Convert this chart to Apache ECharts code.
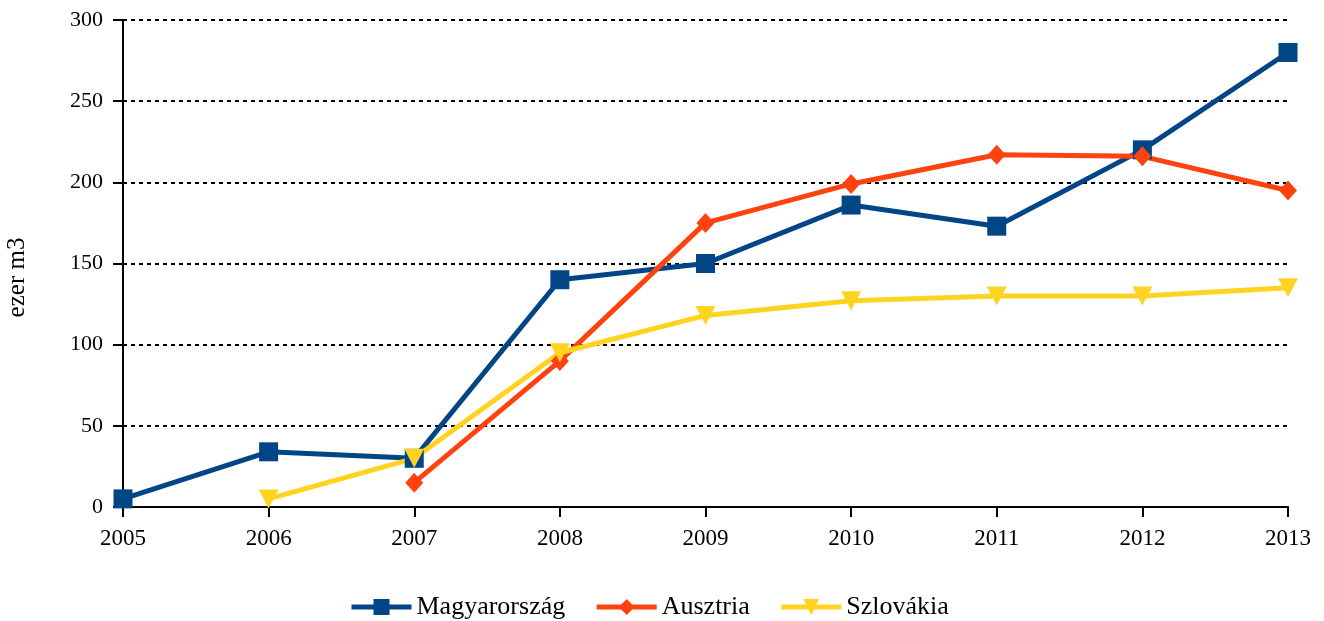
<!DOCTYPE html>
<html>
<head>
<meta charset="utf-8">
<script src="https://cdn.jsdelivr.net/npm/echarts@6/dist/echarts.min.js"></script>
<style>
  html, body { margin: 0; padding: 0; background: #fff; }
  #chart { width: 1324px; height: 621px; }
</style>
</head>
<body>
<div id="chart"></div>
<script>
// évek (x tengely)
var years = ['2005', '2006', '2007', '2008', '2009', '2010', '2011', '2012', '2013']
// sorozatok, ezer m3
var magyarorszag = [5, 34, 30, 140, 150, 186, 173, 220, 280]
var ausztria = [null, null, 15, 90, 175, 199, 217, 216, 195]
var szlovakia = [null, 5, 30, 95, 118, 127, 130, 130, 135]

var font = 'Liberation Serif'
var triDown = 'path://M0,0 L10,0 L5,10 Z'

var myChart = echarts.init(document.getElementById('chart'))
myChart.setOption({
  animation: false,
  textStyle: { fontFamily: font },
  grid: { left: 123, right: 36, top: 20, bottom: 114, containLabel: false, outerBoundsMode: 'none' },
  legend: {
    top: 589,
    left: 344,
    itemWidth: 60,
    itemHeight: 20,
    itemGap: 29,
    lineStyle: { width: 5 },
    textStyle: { fontFamily: font, fontSize: 26, color: '#000' },
    data: ['Magyarország', 'Ausztria', 'Szlovákia']
  },
  xAxis: {
    type: 'category',
    boundaryGap: false,
    data: years,
    axisLine: { lineStyle: { color: '#000', width: 2 } },
    axisTick: { show: true, length: 10, lineStyle: { color: '#000', width: 2 } },
    axisLabel: { color: '#000', fontSize: 23, margin: 20 },
    splitLine: { show: false }
  },
  yAxis: {
    type: 'value',
    min: 0,
    max: 300,
    interval: 50,
    name: 'ezer m3',
    nameLocation: 'middle',
    nameGap: 93,
    nameTextStyle: { color: '#000', fontSize: 25, fontFamily: font, padding: [0, 28, 0, 0] },
    axisLine: { show: true, lineStyle: { color: '#000', width: 2 } },
    axisTick: { show: true, length: 10, lineStyle: { color: '#000', width: 2 } },
    axisLabel: { color: '#000', fontSize: 22, margin: 20 },
    splitLine: { show: true, lineStyle: { color: '#000', width: 2, type: [4, 4] } }
  },
  series: [
    {
      name: 'Magyarország',
      type: 'line',
      data: magyarorszag,
      color: '#004586',
      symbol: 'rect',
      symbolSize: 19,
      lineStyle: { width: 5 }
    },
    {
      name: 'Ausztria',
      type: 'line',
      data: ausztria,
      color: '#ff420e',
      symbol: 'diamond',
      symbolSize: [18, 20],
      lineStyle: { width: 5 }
    },
    {
      name: 'Szlovákia',
      type: 'line',
      data: szlovakia,
      color: '#ffd320',
      symbol: triDown,
      symbolSize: [20, 19],
      lineStyle: { width: 5 }
    }
  ]
})
</script>
</body>
</html>
